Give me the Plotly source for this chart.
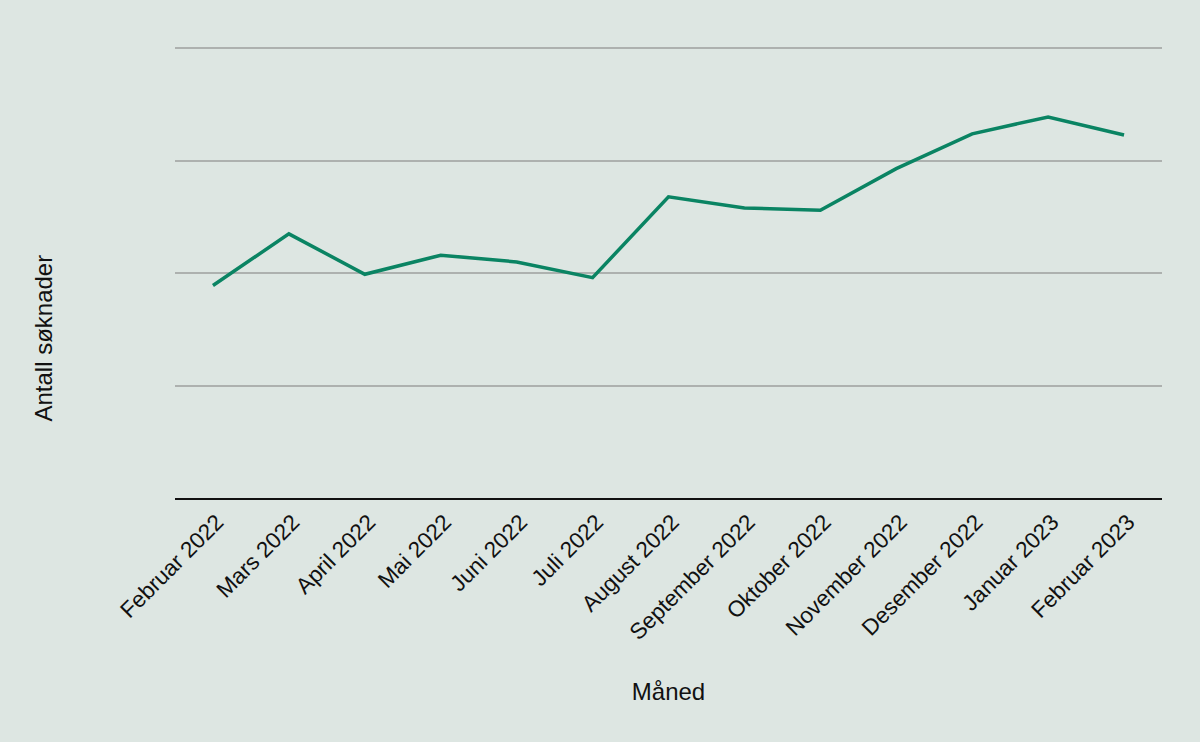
import plotly.graph_objects as go

months = ["Februar 2022", "Mars 2022", "April 2022", "Mai 2022", "Juni 2022", "Juli 2022",
          "August 2022", "September 2022", "Oktober 2022", "November 2022", "Desember 2022",
          "Januar 2023", "Februar 2023"]
soknader = [189, 235, 199, 216, 210, 196, 268, 258, 256, 293, 324, 339, 323]

fig = go.Figure()
fig.add_trace(go.Scatter(x=months, y=soknader, mode="lines",
                         line=dict(color="#0a8463", width=3.5), showlegend=False))

fig.update_layout(
    width=1200, height=742,
    paper_bgcolor="#dde6e2", plot_bgcolor="#dde6e2",
    margin=dict(l=175, r=38, t=45, b=244, autoexpand=False),
    font=dict(family="Liberation Sans, Arial, sans-serif", size=22, color="#111111"),
    annotations=[dict(text="Antall søknader", textangle=-90, showarrow=False,
                      xref="paper", yref="paper", x=-0.1327, y=0.352,
                      xanchor="center", yanchor="middle",
                      font=dict(size=24, color="#111111"))],
)
fig.update_xaxes(
    type="category", range=[-0.5, 12.5], tickangle=-45,
    showgrid=False, showline=True, linecolor="#111111", linewidth=2,
    ticks="", tickfont=dict(size=22.5), ticklabelshift=4,
    title=dict(text="Måned", font=dict(size=24), standoff=39), automargin=False,
)
fig.update_yaxes(
    range=[0, 403], dtick=100, showticklabels=False, showgrid=True,
    gridcolor="#adb1af", gridwidth=2, zeroline=False, automargin=False,
)
fig.write_html("out.html", config={"displayModeBar": False},
               post_script="document.body.style.margin='0';")
